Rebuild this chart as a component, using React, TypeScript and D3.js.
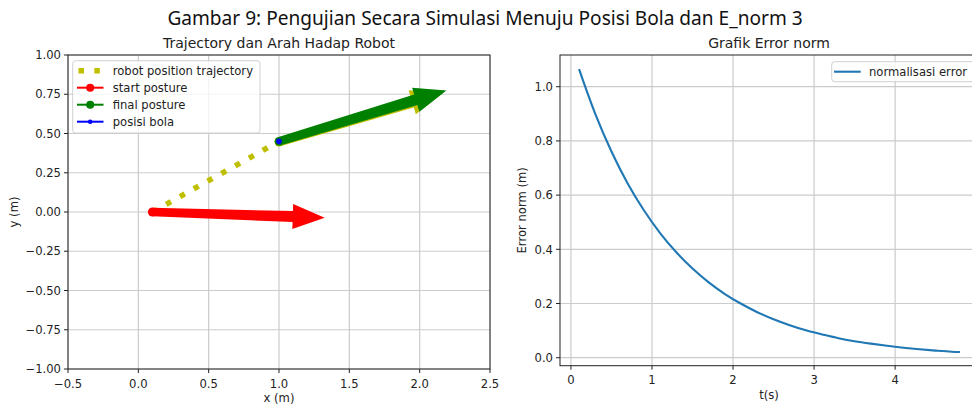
import React from "react";
import * as d3 from "d3";

// Robot path (x, y in metres)
const trajX = [0.1, 0.3, 0.55, 0.8, 1.0];
const trajY = [0.0, 0.1, 0.225, 0.35, 0.45];

// Heading arrows: [x0, y0, x1, y1]
const startArrow = [0.1, 0.0, 1.325, -0.036];
const finalArrow = [1.0, 0.45, 2.19, 0.774];
const finalShadow = [1.0, 0.446, 2.165, 0.758];
const ballPos = [1.0, 0.45];

// Normalised error over time
const timeS = [0.1, 0.3, 0.5, 0.7, 0.9, 1.1, 1.3, 1.5, 1.7, 1.9, 2.1, 2.3, 2.5, 2.7, 2.9, 3.1, 3.3, 3.5, 3.7, 3.9, 4.1, 4.3, 4.5, 4.7, 4.8];
const errNorm = [1.065, 0.9, 0.761, 0.643, 0.544, 0.46, 0.389, 0.329, 0.278, 0.235, 0.199, 0.168, 0.142, 0.12, 0.101, 0.086, 0.072, 0.061, 0.052, 0.044, 0.037, 0.031, 0.026, 0.022, 0.021];

const leftXTicks = [-0.5, 0, 0.5, 1, 1.5, 2, 2.5];
const leftYTicks = [-1, -0.75, -0.5, -0.25, 0, 0.25, 0.5, 0.75, 1];
const rightXTicks = [0, 1, 2, 3, 4, 5];
const rightYTicks = [0, 0.2, 0.4, 0.6, 0.8, 1.0];

const legendLeft = [
  { label: "robot position trajectory", kind: "traj" },
  { label: "start posture", kind: "start" },
  { label: "final posture", kind: "final" },
  { label: "posisi bola", kind: "ball" },
];

const FONT = "DejaVu Sans, sans-serif";
const TICK_FS = 11.6;
const GRID = "#cbcbcb";
const TXT = "#222";
const YEL = "#bfbf00";
const minus = (s: string) => s.replace("-", "\u2212");

function arrowPath(p0: number[], p1: number[], headLen: number, headHalf: number, w0: number, w1: number) {
  const dx = p1[0] - p0[0];
  const dy = p1[1] - p0[1];
  const L = Math.hypot(dx, dy);
  const ux = dx / L, uy = dy / L;
  const nx = -uy, ny = ux;
  const bx = p1[0] - ux * headLen, by = p1[1] - uy * headLen;
  const pts = [
    [p0[0] + nx * w0 / 2, p0[1] + ny * w0 / 2],
    [bx + nx * w1 / 2, by + ny * w1 / 2],
    [bx + nx * headHalf, by + ny * headHalf],
    [p1[0], p1[1]],
    [bx - nx * headHalf, by - ny * headHalf],
    [bx - nx * w1 / 2, by - ny * w1 / 2],
    [p0[0] - nx * w0 / 2, p0[1] - ny * w0 / 2],
  ];
  return "M" + pts.map((p) => p.join(",")).join("L") + "Z";
}

export default function App() {
  // Left panel scales
  const lx = d3.scaleLinear().domain([-0.5, 2.5]).range([68, 490]);
  const ly = d3.scaleLinear().domain([-1, 1]).range([369, 55]);
  // Right panel scales
  const rx = d3.scaleLinear().domain([-0.135, 5.035]).range([560, 979]);
  const ry = d3.scaleLinear().domain([-0.0295, 1.117]).range([365.7, 55]);

  const trajLine = d3.line<number>().x((_, i) => lx(trajX[i])).y((_, i) => ly(trajY[i]))(trajX) || "";
  const errLine = d3
    .line<number>()
    .x((_, i) => rx(timeS[i]))
    .y((_, i) => ry(errNorm[i]))
    .curve(d3.curveMonotoneX)(timeS) || "";

  const arrowFor = (a: number[], w0: number, w1: number) =>
    arrowPath([lx(a[0]), ly(a[1])], [lx(a[2]), ly(a[3])], 32, 12.5, w0, w1);

  const LL = { x0: 68, x1: 490, y0: 55, y1: 369 };
  const RR = { x0: 560, x1: 979, y0: 55, y1: 365.7 };

  return (
    <svg width={972} height={407} style={{ position: "absolute", left: 0, top: 0, background: "#fff" }} fontFamily={FONT}>
      <rect width={972} height={407} fill="#fff" />
      <text x={485} y={25} textAnchor="middle" fontFamily="Noto Sans, sans-serif" fontSize={19.1} fill="#111">
        Gambar 9: Pengujian Secara Simulasi Menuju Posisi Bola dan E_norm 3
      </text>

      {/* ---------- Left panel: trajectory ---------- */}
      <text x={(LL.x0 + LL.x1) / 2} y={47.5} textAnchor="middle" fontSize={14} fill={TXT}>
        Trajectory dan Arah Hadap Robot
      </text>
      <g>
        {leftXTicks.map((t) => (
          <line key={"lgx" + t} x1={lx(t)} x2={lx(t)} y1={LL.y0} y2={LL.y1} stroke={GRID} strokeWidth={1.2} />
        ))}
        {leftYTicks.map((t) => (
          <line key={"lgy" + t} x1={LL.x0} x2={LL.x1} y1={ly(t)} y2={ly(t)} stroke={GRID} strokeWidth={1.2} />
        ))}
      </g>
      <path d={trajLine} fill="none" stroke={YEL} strokeWidth={5.5} strokeDasharray="5.5 10.3" />
      <path d={arrowFor(finalShadow, 9, 11)} fill={YEL} />
      <circle cx={lx(finalShadow[0])} cy={ly(finalShadow[1])} r={4.5} fill={YEL} />
      <path d={arrowFor(finalArrow, 8.5, 11)} fill="#008000" />
      <circle cx={lx(finalArrow[0])} cy={ly(finalArrow[1])} r={4.3} fill="#008000" />
      <path d={arrowFor(startArrow, 8.5, 11)} fill="#ff0000" />
      <circle cx={lx(startArrow[0])} cy={ly(startArrow[1])} r={4.5} fill="#ff0000" />
      <circle cx={lx(ballPos[0])} cy={ly(ballPos[1])} r={2.8} fill="#0000ff" />
      <rect x={LL.x0} y={LL.y0} width={LL.x1 - LL.x0} height={LL.y1 - LL.y0} fill="none" stroke="#222" strokeWidth={1} />
      {leftXTicks.map((t) => (
        <g key={"lxt" + t}>
          <line x1={lx(t)} x2={lx(t)} y1={LL.y1} y2={LL.y1 + 4} stroke="#222" />
          <text x={lx(t)} y={387.5} textAnchor="middle" fontSize={TICK_FS} fill={TXT}>
            {minus(t.toFixed(1))}
          </text>
        </g>
      ))}
      {leftYTicks.map((t) => (
        <g key={"lyt" + t}>
          <line x1={LL.x0 - 4} x2={LL.x0} y1={ly(t)} y2={ly(t)} stroke="#222" />
          <text x={61} y={ly(t) + 4.2} textAnchor="end" fontSize={TICK_FS} fill={TXT}>
            {minus(t.toFixed(2))}
          </text>
        </g>
      ))}
      <text x={279} y={401.5} textAnchor="middle" fontSize={TICK_FS} fill={TXT}>x (m)</text>
      <text transform={`translate(18,${(LL.y0 + LL.y1) / 2}) rotate(-90)`} textAnchor="middle" fontSize={TICK_FS} fill={TXT}>
        y (m)
      </text>
      {/* legend */}
      <rect x={72.7} y={60.7} width={187.3} height={72.3} rx={3} fill="#fff" fillOpacity={0.8} stroke="#d0d0d0" />
      {legendLeft.map((e, i) => {
        const yy = 70.7 + i * 17;
        return (
          <g key={e.kind}>
            {e.kind === "traj" ? (
              <line x1={78.5} x2={104} y1={yy} y2={yy} stroke={YEL} strokeWidth={5.5} strokeDasharray="5.5 10.3" />
            ) : (
              <>
                <line x1={77} x2={103.5} y1={yy} y2={yy} stroke={e.kind === "start" ? "#ff0000" : e.kind === "final" ? "#008000" : "#0000ff"} strokeWidth={2} />
                <circle cx={90.2} cy={yy} r={e.kind === "ball" ? 2.3 : 4} fill={e.kind === "start" ? "#ff0000" : e.kind === "final" ? "#008000" : "#0000ff"} />
              </>
            )}
            <text x={112.7} y={yy + 4.2} fontSize={TICK_FS} fill={TXT}>{e.label}</text>
          </g>
        );
      })}

      {/* ---------- Right panel: error norm ---------- */}
      <text x={769} y={47.5} textAnchor="middle" fontSize={14} fill={TXT}>Grafik Error norm</text>
      {rightXTicks.map((t) => (
        <line key={"rgx" + t} x1={rx(t)} x2={rx(t)} y1={RR.y0} y2={RR.y1} stroke={GRID} strokeWidth={1.2} />
      ))}
      {rightYTicks.map((t) => (
        <line key={"rgy" + t} x1={RR.x0} x2={RR.x1} y1={ry(t)} y2={ry(t)} stroke={GRID} strokeWidth={1.2} />
      ))}
      <path d={errLine} fill="none" stroke="#1f77b4" strokeWidth={2.1} />
      <rect x={RR.x0} y={RR.y0} width={RR.x1 - RR.x0} height={RR.y1 - RR.y0} fill="none" stroke="#222" strokeWidth={1} />
      {rightXTicks.map((t) => (
        <g key={"rxt" + t}>
          <line x1={rx(t)} x2={rx(t)} y1={RR.y1} y2={RR.y1 + 4} stroke="#222" />
          <text x={rx(t)} y={384} textAnchor="middle" fontSize={TICK_FS} fill={TXT}>{String(t)}</text>
        </g>
      ))}
      {rightYTicks.map((t) => (
        <g key={"ryt" + t}>
          <line x1={RR.x0 - 4} x2={RR.x0} y1={ry(t)} y2={ry(t)} stroke="#222" />
          <text x={553} y={ry(t) + 4.2} textAnchor="end" fontSize={TICK_FS} fill={TXT}>{t.toFixed(1)}</text>
        </g>
      ))}
      <text x={769} y={399} textAnchor="middle" fontSize={TICK_FS} fill={TXT}>t(s)</text>
      <text transform={`translate(526,${(RR.y0 + RR.y1) / 2}) rotate(-90)`} textAnchor="middle" fontSize={TICK_FS} fill={TXT}>
        Error norm (m)
      </text>
      <rect x={831.7} y={61.7} width={150} height={20} rx={3} fill="#fff" fillOpacity={0.8} stroke="#d0d0d0" />
      <line x1={834} x2={860.7} y1={71.7} y2={71.7} stroke="#1f77b4" strokeWidth={2.1} />
      <text x={869} y={75.9} fontSize={TICK_FS} fill={TXT}>normalisasi error</text>
    </svg>
  );
}
